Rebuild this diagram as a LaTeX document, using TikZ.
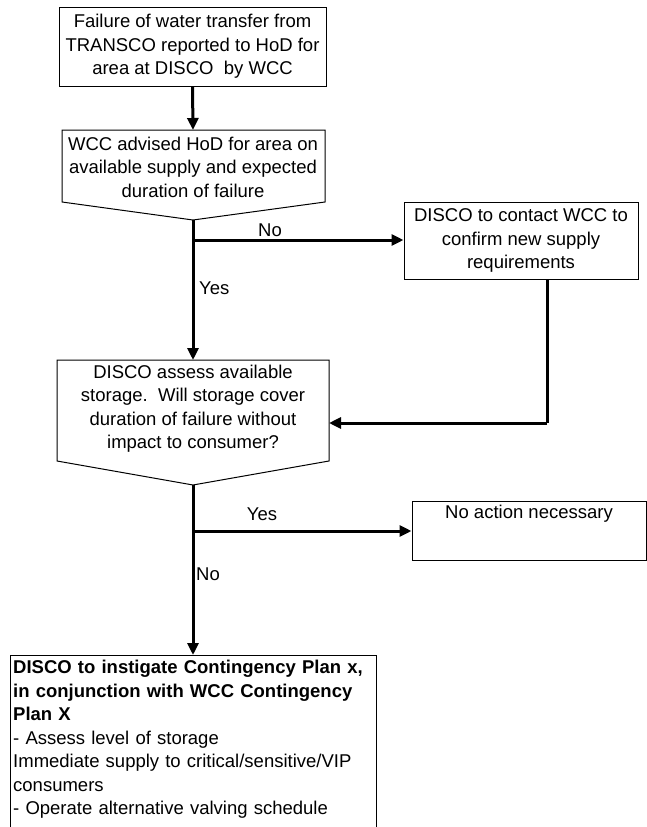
\documentclass[tikz,border=0pt]{standalone}
\usepackage{fontspec}
\setmainfont{Liberation Sans}
\usetikzlibrary{arrows.meta}
\begin{document}
\begin{tikzpicture}[x=1pt,y=-1pt,
  every node/.style={font=\fontsize{18.5}{23.5}\selectfont, inner sep=0pt},
  boxline/.style={draw=black, line width=1pt},
  flow/.style={line width=3pt, -{Triangle[length=12pt,width=11pt]}},
  flowplain/.style={line width=3pt},
  txt/.style={align=center}]
\useasboundingbox (0,0) rectangle (647,827);
% Box 1
\node[boxline, minimum width=267pt, minimum height=79pt, txt] (b1) at (192.5,46.5)
  {Failure of water transfer from\\TRANSCO reported to HoD for\\area at DISCO\ \ by WCC};
% Box 2 (pentagon)
\draw[boxline] (62,130) -- (325,130) -- (325,202) -- (193,220) -- (62,202) -- cycle;
\coordinate (b2top) at (193,130);
\coordinate (p2) at (193,220);
\node[txt] (t2) at (193,167) {WCC advised HoD for area on\\available supply and expected\\duration of failure};
% Contact box
\node[boxline, minimum width=234pt, minimum height=77pt, txt] (contact) at (521,240.5)
  {DISCO to contact WCC to\\confirm new supply\\requirements};
% Box 3 (pentagon)
\draw[boxline] (57,360) -- (329,360) -- (329,461) -- (193,485) -- (57,461) -- cycle;
\coordinate (b3top) at (193,360);
\coordinate (b3r) at (329,423);
\coordinate (p3) at (193,485);
\node[txt] (t3) at (193,408.5) {DISCO assess available\\storage.\ \ Will storage cover\\duration of failure without\\impact to consumer?};
% No action box
\node[boxline, minimum width=234pt, minimum height=59pt] (noact) at (529,530.5) {};
\node[anchor=north] (tna) at ([yshift=-4pt]noact.north) {No action necessary};
% Box 4 (open at bottom)
\draw[boxline] (10,827) -- (10,655) -- (376,655) -- (376,827);
\coordinate (b4top) at (193,655);
\node[anchor=north west, align=left, text width=360pt] (t4) at (13,660)
  {\textbf{DISCO to instigate Contingency Plan x,}\\
   \textbf{in conjunction with WCC Contingency}\\
   \textbf{Plan X}\\
   - Assess level of storage\\
   Immediate supply to critical/sensitive/VIP\\
   consumers\\
   - Operate alternative valving schedule};
% Junctions
\coordinate (j1) at (193,240);
\coordinate (j2) at (193,531);
\coordinate (c1) at (547,423);
% Connectors
\draw[flow] (b1.south) -- (b2top);
\draw[flow] (p2) -- (b3top);
\draw[flow] (j1) -- (contact.west |- j1);
\draw[flowplain] (contact.south -| c1) -- (c1);
\draw[flow] (c1) -- (b3r);
\draw[flow] (p3) -- (b4top);
\draw[flow] (j2) -- (noact.west |- j2);
% Labels
\node (lno1) at (270,230) {No};
\node[anchor=west] (lyes1) at (199,288) {Yes};
\node (lyes2) at (262,514) {Yes};
\node[anchor=west] (lno2) at (196,574) {No};
\end{tikzpicture}
\end{document}
